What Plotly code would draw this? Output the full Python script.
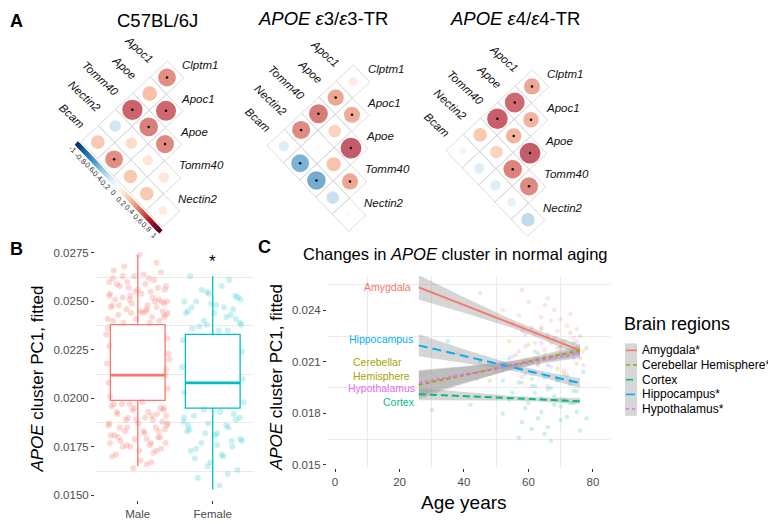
import numpy as np
import plotly.graph_objects as go

W, H = 776, 524
OFF = 8  # the page body margin; the figure is laid out in window pixels
FW, FH = W - OFF, H - OFF
FONT = "Liberation Sans, Arial, sans-serif"

# ---------------- panel A: correlations inside the APOE cluster ----------------
row_genes = ["Clptm1", "Apoc1", "Apoe", "Tomm40", "Nectin2"]
col_genes = ["Apoc1", "Apoe", "Tomm40", "Nectin2", "Bcam"]
strain_titles = ["C57BL/6J", "<i>APOE ε</i>3/<i>ε</i>3-TR", "<i>APOE ε</i>4/<i>ε</i>4-TR"]

# row r holds the correlations of row_genes[r] with col_genes[r:]
corr_b6 = [[0.60, 0.40, 0.78, -0.25, 0.35],
           [0.76, 0.66, 0.25, 0.60],
           [0.62, 0.20, 0.35],
           [0.20, 0.35],
           [0.15]]
sig_b6 = [[1, 0, 1, 0, 0], [1, 1, 0, 1], [1, 0, 0], [0, 0], [0]]
corr_e3 = [[0.15, 0.50, 0.68, 0.62, -0.20],
           [0.48, 0.30, 0.05, -0.60],
           [0.82, 0.38, -0.65],
           [0.50, -0.30],
           [-0.05]]
sig_e3 = [[0, 1, 1, 1, 0], [1, 0, 0, 1], [1, 0, 1], [1, 0], [0]]
corr_e4 = [[0.50, 0.75, 0.80, 0.35, -0.10],
           [0.45, 0.45, 0.30, -0.20],
           [0.82, 0.65, -0.20],
           [0.62, -0.15],
           [-0.35]]
sig_e4 = [[1, 1, 1, 0, 0], [1, 1, 0, 0], [1, 1, 0], [1, 0], [0]]
cbar_ticks = [-1, -0.8, -0.6, -0.4, -0.2, 0, 0.2, 0.4, 0.6, 0.8, 1]

# ---------------- panel B: sex ----------------
sex_groups = ["Male", "Female"]
box_q1 = [0.0199, 0.0195]
box_median = [0.0212, 0.0208]
box_q3 = [0.0238, 0.0233]
box_low = [0.0165, 0.0153]
box_high = [0.0274, 0.0263]

male_y = [0.0274, 0.0268, 0.0265, 0.0263, 0.0261, 0.0262, 0.0259, 0.0258, 0.0256, 0.0257,
          0.0255, 0.0253, 0.0254, 0.0251, 0.0252, 0.0250, 0.0249, 0.0251, 0.0248, 0.0247,
          0.0246, 0.0245, 0.0247, 0.0244, 0.0243, 0.0242, 0.0244, 0.0241, 0.0240, 0.0239,
          0.0241, 0.0256, 0.0249, 0.0253, 0.0259, 0.0245, 0.0250, 0.0262, 0.0248, 0.0243,
          0.0270, 0.0266, 0.0264, 0.0260, 0.0258, 0.0255, 0.0254, 0.0252, 0.0250, 0.0248,
          0.0246, 0.0244, 0.0242, 0.0240, 0.0263, 0.0257, 0.0251, 0.0245, 0.0239, 0.0260,
          0.0236, 0.0231, 0.0227, 0.0223, 0.0218, 0.0215, 0.0208, 0.0205, 0.0201, 0.0233, 0.0220, 0.0212,
          0.0198, 0.0197, 0.0195, 0.0196, 0.0193, 0.0194, 0.0191, 0.0192, 0.0189, 0.0190,
          0.0188, 0.0186, 0.0187, 0.0185, 0.0183, 0.0184, 0.0181, 0.0182, 0.0179, 0.0180,
          0.0178, 0.0176, 0.0177, 0.0174, 0.0175, 0.0172, 0.0171, 0.0168, 0.0166, 0.0164,
          0.0197, 0.0192, 0.0189, 0.0186, 0.0183, 0.0180, 0.0177, 0.0194, 0.0187, 0.0173,
          0.0197, 0.0195, 0.0193, 0.0191, 0.0189, 0.0187, 0.0185, 0.0183, 0.0181, 0.0179,
          0.0177, 0.0175, 0.0173, 0.0170, 0.0167, 0.0195, 0.0190, 0.0185, 0.0180, 0.0176]
male_dx = [0.02, -0.18, 0.31, -0.05, 0.22, -0.33, 0.10, -0.24, 0.36, -0.12,
           0.17, -0.38, 0.05, 0.28, -0.20, 0.39, -0.08, -0.30, 0.13, 0.25,
           -0.15, 0.33, -0.36, 0.07, -0.26, 0.19, 0.40, -0.02, 0.29, -0.19,
           -0.40, 0.00, 0.35, -0.10, -0.28, 0.11, 0.23, 0.15, -0.34, 0.37,
           0.25, -0.32, 0.08, -0.14, 0.38, -0.03, -0.37, 0.20, 0.32, -0.25,
           0.12, -0.09, 0.35, -0.33, -0.20, 0.27, -0.11, 0.04, 0.16, -0.38,
           -0.40, 0.39, -0.38, 0.41, -0.41, 0.38, -0.39, 0.40, -0.37, -0.42, 0.42, 0.37,
           0.06, -0.21, 0.30, -0.35, 0.14, -0.07, 0.38, -0.27, 0.20, -0.13,
           0.33, -0.39, 0.01, 0.24, -0.17, 0.36, -0.31, 0.09, -0.04, 0.27,
           -0.23, 0.16, -0.37, 0.31, -0.10, 0.21, -0.29, 0.04, 0.12, -0.06,
           -0.32, 0.26, -0.16, 0.39, 0.08, -0.26, 0.18, 0.34, -0.38, 0.02,
           -0.11, 0.35, -0.28, 0.19, -0.02, 0.40, -0.14, 0.28, -0.36, 0.12,
           0.37, -0.20, 0.25, -0.34, 0.18, -0.05, 0.10, -0.24, 0.30, -0.15]
female_y = [0.0263, 0.0258, 0.0255, 0.0252, 0.0250, 0.0248, 0.0246, 0.0244, 0.0242, 0.0240,
            0.0238, 0.0236, 0.0235, 0.0249, 0.0243, 0.0237, 0.0253, 0.0245, 0.0239, 0.0247,
            0.0261, 0.0256, 0.0251, 0.0247, 0.0244, 0.0241, 0.0238, 0.0250, 0.0235, 0.0254,
            0.0230, 0.0224, 0.0216, 0.0210, 0.0203, 0.0198,
            0.0193, 0.0191, 0.0189, 0.0187, 0.0185, 0.0183, 0.0181, 0.0179, 0.0177, 0.0175,
            0.0173, 0.0170, 0.0167, 0.0163, 0.0159, 0.0155, 0.0190, 0.0186, 0.0182, 0.0178,
            0.0192, 0.0184, 0.0176, 0.0169,
            0.0194, 0.0190, 0.0186, 0.0182, 0.0178, 0.0174, 0.0171, 0.0165, 0.0161, 0.0188]
female_dx = [-0.30, 0.12, -0.08, 0.33, -0.22, 0.05, 0.27, -0.36, 0.18, -0.12,
             0.38, -0.27, 0.08, -0.02, 0.24, -0.18, 0.30, -0.33, 0.36, 0.15,
             0.22, -0.15, 0.37, -0.28, 0.02, 0.31, -0.08, -0.38, 0.20, -0.05,
             -0.40, 0.39, -0.41, 0.40, -0.38, 0.41,
             0.10, -0.25, 0.31, -0.06, 0.21, -0.34, 0.03, 0.37, -0.15, 0.26,
             -0.29, 0.14, -0.03, 0.33, -0.20, 0.09, -0.38, 0.18, -0.10, 0.39,
             0.28, -0.31, 0.06, -0.24,
             -0.12, 0.36, -0.33, 0.06, 0.25, -0.22, 0.12, -0.07, 0.20, -0.39]

# ---------------- panel C: brain regions vs age ----------------
regions = ["Amygdala", "Cerebellar Hemisphere", "Cortex", "Hippocampus", "Hypothalamus"]
legend_labels = ["Amygdala*", "Cerebellar Hemisphere*", "Cortex", "Hippocampus*", "Hypothalamus*"]
inline_labels = ["Amygdala", "Cerebellar<br>Hemisphere", "Cortex", "Hippocampus", "Hypothalamus"]
inline_x = [24.2, 23.9, 25.5, 24.8, 25.5]
inline_y = [0.02533, 0.02058, 0.01868, 0.02231, 0.01948]

fit_age = [26, 40, 55, 65, 76]
fit_amy = [0.02533, 0.02431, 0.02321, 0.02248, 0.02167]
se_amy = [0.00072, 0.00045, 0.00024, 0.00022, 0.00032]
fit_cer = [0.01966, 0.02022, 0.02082, 0.02122, 0.02166]
se_cer = [0.00080, 0.00050, 0.00025, 0.00022, 0.00032]
fit_ctx = [0.01912, 0.01901, 0.01888, 0.01880, 0.01871]
se_ctx = [0.00036, 0.00024, 0.00013, 0.00012, 0.00018]
fit_hip = [0.02196, 0.02134, 0.02068, 0.02024, 0.01976]
se_hip = [0.00064, 0.00040, 0.00020, 0.00018, 0.00028]
fit_hyp = [0.01978, 0.02027, 0.02079, 0.02114, 0.02152]
se_hyp = [0.00075, 0.00048, 0.00024, 0.00020, 0.00030]

amy_age = [55, 58, 60, 62, 64, 66, 68, 70, 72, 74, 76, 52, 63, 69, 73, 45, 38, 58, 61, 67, 71, 65,
           57, 59, 64, 66, 70, 75, 77, 62]
amy_val = [0.0232, 0.0228, 0.0245, 0.0221, 0.0236, 0.0226, 0.0240, 0.0218, 0.0231, 0.0224, 0.0212,
           0.0240, 0.0212, 0.0228, 0.0238, 0.0250, 0.0215, 0.0252, 0.0230, 0.0234, 0.0222, 0.0243,
           0.0237, 0.0219, 0.0229, 0.0247, 0.0235, 0.0229, 0.0216, 0.0226]
cer_age = [52, 56, 60, 63, 66, 68, 70, 73, 75, 58, 64, 71, 48, 78, 62, 67, 54, 59, 61, 65, 69, 72, 76, 74]
cer_val = [0.0205, 0.0214, 0.0220, 0.0208, 0.0224, 0.0212, 0.0219, 0.0227, 0.0209, 0.0198, 0.0230,
           0.0203, 0.0199, 0.0218, 0.0216, 0.0221, 0.0222, 0.0211, 0.0200, 0.0214, 0.0206, 0.0213,
           0.0225, 0.0221]
ctx_age = [52, 55, 58, 60, 62, 64, 66, 68, 70, 72, 74, 76, 30, 42, 65, 69, 57, 63, 71, 67,
           54, 59, 61, 66, 70, 73, 75, 78]
ctx_val = [0.0180, 0.0192, 0.0175, 0.0186, 0.0196, 0.0181, 0.0172, 0.0190, 0.0184, 0.0178, 0.0193,
           0.0170, 0.0182, 0.0185, 0.0168, 0.0200, 0.0166, 0.0177, 0.0188, 0.0164,
           0.0188, 0.0183, 0.0171, 0.0194, 0.0176, 0.0186, 0.0181, 0.0177]
hip_age = [50, 54, 57, 60, 62, 65, 67, 70, 72, 75, 45, 63, 68, 35, 59, 73, 52, 56, 61, 64, 66, 69, 74, 77]
hip_val = [0.0205, 0.0212, 0.0198, 0.0209, 0.0192, 0.0201, 0.0195, 0.0188, 0.0202, 0.0193, 0.0210,
           0.0215, 0.0185, 0.0222, 0.0203, 0.0197, 0.0199, 0.0207, 0.0196, 0.0189, 0.0208, 0.0199,
           0.0186, 0.0204]
hyp_age = [53, 57, 61, 64, 67, 70, 73, 75, 59, 66, 44, 28, 62, 69, 55, 58, 63, 65, 68, 71, 74, 77]
hyp_val = [0.0208, 0.0216, 0.0203, 0.0221, 0.0207, 0.0215, 0.0199, 0.0222, 0.0226, 0.0196, 0.0200,
           0.0190, 0.0212, 0.0218, 0.0213, 0.0201, 0.0209, 0.0217, 0.0224, 0.0205, 0.0212, 0.0208]

# ---------------- styling ----------------
RDBU = [[0.0, "#053061"], [0.1, "#2166AC"], [0.2, "#4393C3"], [0.3, "#92C5DE"], [0.4, "#D1E5F0"],
        [0.5, "#FFFFFF"], [0.6, "#FDDBC7"], [0.7, "#F4A582"], [0.8, "#D6604D"], [0.9, "#B2182B"],
        [1.0, "#67001F"]]
sex_colors = ["#F8766D", "#00BFC4"]
region_colors = ["#F8766D", "#A3A500", "#00BF7D", "#00B0F6", "#E76BF3"]
region_dash = ["solid", "4px,3px", "7px,4px", "9px,5px", "dot"]
BAND = "rgba(153,153,153,0.4)"
TICK_FONT = dict(family=FONT, size=11.5, color="#4D4D4D")


def px(x):
    return (x - OFF) / FW


def py(y):
    return 1 - (y - OFF) / FH


def label(x, y, text, size, color="#000", **kw):
    d = dict(x=px(x), y=py(y), xref="paper", yref="paper", text=text, showarrow=False,
             xanchor="center", yanchor="middle", font=dict(family=FONT, size=size, color=color))
    d.update(kw)
    return d


fig = go.Figure()
ann = []
shapes = []

# ---- panel A: rotated triangular corrplots (axis units = window pixels, y flipped)
mat_origin = [(167, 77), (353, 81), (532, 86)]
title_pos = [(157, 20), (323, 18), (515, 18)]
STEP, TILT, CIRCLE = 16.8, np.radians(1.7), 23.0
u_r = STEP * np.array([np.cos(TILT) - np.sin(TILT), np.sin(TILT) + np.cos(TILT)])
u_c = STEP * np.array([-(np.cos(TILT) + np.sin(TILT)), np.cos(TILT) - np.sin(TILT)])
corners = [-(u_r + u_c) / 2, (u_r - u_c) / 2, (u_r + u_c) / 2, (u_c - u_r) / 2, -(u_r + u_c) / 2]

for m, (corr, sig) in enumerate(zip([corr_b6, corr_e3, corr_e4], [sig_b6, sig_e3, sig_e4])):
    origin = np.array(mat_origin[m], dtype=float)
    gx, gy, cx, cy, cval, csize, sx, sy = [], [], [], [], [], [], [], []
    for r in range(len(row_genes)):
        for k, val in enumerate(corr[r]):
            p = origin + r * u_r + (r + k) * u_c
            for off in corners:
                gx.append(p[0] + off[0])
                gy.append(-(p[1] + off[1]))
            gx.append(None)
            gy.append(None)
            cx.append(p[0])
            cy.append(-p[1])
            cval.append(val)
            csize.append(CIRCLE * abs(val) ** 0.5)
            if sig[r][k]:
                sx.append(p[0])
                sy.append(-p[1])
    fig.add_trace(go.Scatter(x=gx, y=gy, mode="lines", line=dict(color="#D2D2D2", width=0.8),
                             hoverinfo="skip"))
    fig.add_trace(go.Scatter(x=cx, y=cy, mode="markers", hoverinfo="skip",
                             marker=dict(size=csize, color=cval, colorscale=RDBU, cmin=-1, cmax=1,
                                         line=dict(width=0))))
    fig.add_trace(go.Scatter(x=sx, y=sy, mode="markers", hoverinfo="skip",
                             marker=dict(size=2.5, color="black")))
    for r, gene in enumerate(row_genes):
        p = origin + r * (u_r + u_c) - 0.75 * u_c
        ann.append(dict(x=p[0], y=-p[1], xref="x", yref="y", text=f"<i>{gene}</i>", showarrow=False,
                        xanchor="left", yanchor="middle", font=dict(family=FONT, size=11.5, color="#111")))
    for c, gene in enumerate(col_genes):
        p = origin + c * u_c - 0.5 * u_r
        ann.append(dict(x=p[0], y=-p[1], xref="x", yref="y", text=f"<i>{gene}</i>", showarrow=False,
                        textangle=43, xanchor="right", yanchor="bottom",
                        font=dict(family=FONT, size=11.5, color="#111")))
    ann.append(label(title_pos[m][0], title_pos[m][1], strain_titles[m], 18.5))

    if m == 0:
        start = origin + 4 * u_c + (u_c - u_r) / 2
        end = origin + 4 * (u_r + u_c) + (u_r + u_c) / 2
        t = np.linspace(0, 1, 90)
        bar = start[None, :] + t[:, None] * (end - start)[None, :] + 0.18 * u_c
        fig.add_trace(go.Scatter(x=bar[:, 0], y=-bar[:, 1], mode="markers", hoverinfo="skip",
                                 marker=dict(symbol="square", angle=43, size=4.5, color=-1 + 2 * t,
                                             colorscale=RDBU, cmin=-1, cmax=1, line=dict(width=0))))
        for v in cbar_ticks:
            p = start + (v + 1) / 2 * (end - start) + 0.5 * u_c
            ann.append(dict(x=p[0], y=-p[1], xref="x", yref="y", text=f"{v:g}", showarrow=False,
                            textangle=43, font=dict(family=FONT, size=7.5, color="#333")))

# ---- panel B: box plots with jittered points
for i, (ys, dxs) in enumerate([(male_y, male_dx), (female_y, female_dx)]):
    fig.add_trace(go.Scatter(x=[i + d for d in dxs], y=ys, mode="markers", xaxis="x2", yaxis="y2",
                             hoverinfo="skip",
                             marker=dict(size=6, color=sex_colors[i], opacity=0.28 if i == 0 else 0.22,
                                         line=dict(width=0))))
for i in range(len(sex_groups)):
    fig.add_trace(go.Box(x=[i], q1=[box_q1[i]], median=[box_median[i]], q3=[box_q3[i]],
                         lowerfence=[box_low[i]], upperfence=[box_high[i]], width=0.73,
                         fillcolor="white", line=dict(color=sex_colors[i], width=1.3),
                         whiskerwidth=0, boxpoints=False, xaxis="x2", yaxis="y2", hoverinfo="skip"))
    shapes.append(dict(type="line", xref="x2", yref="y2", x0=i - 0.365, x1=i + 0.365,
                       y0=box_median[i], y1=box_median[i], layer="above",
                       line=dict(color=sex_colors[i], width=2.6)))
ann.append(dict(x=1, y=0.02704, xref="x2", yref="y2", text="*", showarrow=False,
                xanchor="center", yanchor="middle", font=dict(family=FONT, size=17, color="#000")))

# ---- panel C: regression lines per region
ages = [amy_age, cer_age, ctx_age, hip_age, hyp_age]
vals = [amy_val, cer_val, ctx_val, hip_val, hyp_val]
fits = [fit_amy, fit_cer, fit_ctx, fit_hip, fit_hyp]
ses = [se_amy, se_cer, se_ctx, se_hip, se_hyp]
for k in range(len(regions)):
    fig.add_trace(go.Scatter(x=ages[k], y=vals[k], mode="markers", xaxis="x3", yaxis="y3", hoverinfo="skip",
                             marker=dict(size=4.5, color=region_colors[k], opacity=0.2, line=dict(width=0))))
for k in range(len(regions)):
    hi = [f + s for f, s in zip(fits[k], ses[k])]
    lo = [f - s for f, s in zip(fits[k], ses[k])]
    fig.add_trace(go.Scatter(x=fit_age + fit_age[::-1], y=hi + lo[::-1], fill="toself", fillcolor=BAND,
                             mode="lines", line=dict(width=0), xaxis="x3", yaxis="y3", hoverinfo="skip"))
for k in range(len(regions)):
    fig.add_trace(go.Scatter(x=fit_age, y=fits[k], mode="lines", xaxis="x3", yaxis="y3", hoverinfo="skip",
                             line=dict(color=region_colors[k], width=2, dash=region_dash[k])))
    ann.append(dict(x=inline_x[k], y=inline_y[k], xref="x3", yref="y3", text=inline_labels[k],
                    showarrow=False, xanchor="right", yanchor="middle", align="left",
                    font=dict(family=FONT, size=10.5, color=region_colors[k])))

# manual legend for panel C
ann.append(label(622, 325, "Brain regions", 18, xanchor="left"))
shapes.append(dict(type="rect", xref="paper", yref="paper", x0=px(625), x1=px(637), y0=py(418), y1=py(345),
                   fillcolor="#D6D6D6", line=dict(width=0), layer="above"))
for k, lab in enumerate(legend_labels):
    yy = 352 + 14.8 * k
    shapes.append(dict(type="line", xref="paper", yref="paper", x0=px(626), x1=px(637), y0=py(yy), y1=py(yy),
                       line=dict(color=region_colors[k], width=1.6, dash=region_dash[k]), layer="above"))
    ann.append(label(640, yy, lab, 12, xanchor="left"))

# titles, axis titles, panel letters
for letter, (lx, ly) in zip("ABC", [(16, 20), (16, 250), (264, 248)]):
    ann.append(label(lx, ly, f"<b>{letter}</b>", 18))
ann.append(label(455, 255, "Changes in <i>APOE</i> cluster in normal aging", 16.5))
for tx, ty in [(37.5, 381), (276, 380)]:
    ann.append(label(tx, ty, "<i>APOE</i> cluster PC1, fitted", 17, textangle=-90))
ann.append(label(464, 505, "Age years", 19))

grid = dict(showgrid=True, gridcolor="#EBEBEB", gridwidth=1)
common = dict(showline=False, zeroline=False, showgrid=False, ticks="outside", ticklen=3, tickwidth=1,
              tickcolor="#333", tickfont=TICK_FONT, fixedrange=True)

fig.update_layout(
    width=FW, height=FH, margin=dict(l=0, r=0, t=0, b=0), showlegend=False,
    paper_bgcolor="white", plot_bgcolor="rgba(0,0,0,0)",
    xaxis=dict(domain=[0, 1], range=[OFF, W], visible=False, fixedrange=True),
    yaxis=dict(domain=[0, 1], range=[-H, -OFF], visible=False, fixedrange=True),
    xaxis2=dict(domain=[px(95), px(254)], range=[-0.57, 1.55], anchor="y2", tickvals=[0, 1],
                ticktext=sex_groups, **common),
    yaxis2=dict(domain=[py(503), py(249)], range=[0.01475, 0.02775], anchor="x2", tick0=0.015,
                dtick=0.0025, tickformat=".4f", minor=dict(dtick=0.00125, **grid), **common),
    xaxis3=dict(domain=[px(327), px(610)], range=[-2.5, 85.3], anchor="y3", tick0=0, dtick=20,
                minor=dict(dtick=10, **grid), **common),
    yaxis3=dict(domain=[py(471), py(277)], range=[0.0148, 0.0260], anchor="x3", tick0=0.015, dtick=0.003,
                tickformat=".3f", minor=dict(dtick=0.0015, **grid), **common),
    annotations=ann, shapes=shapes,
)

fig.write_html("out.html")
